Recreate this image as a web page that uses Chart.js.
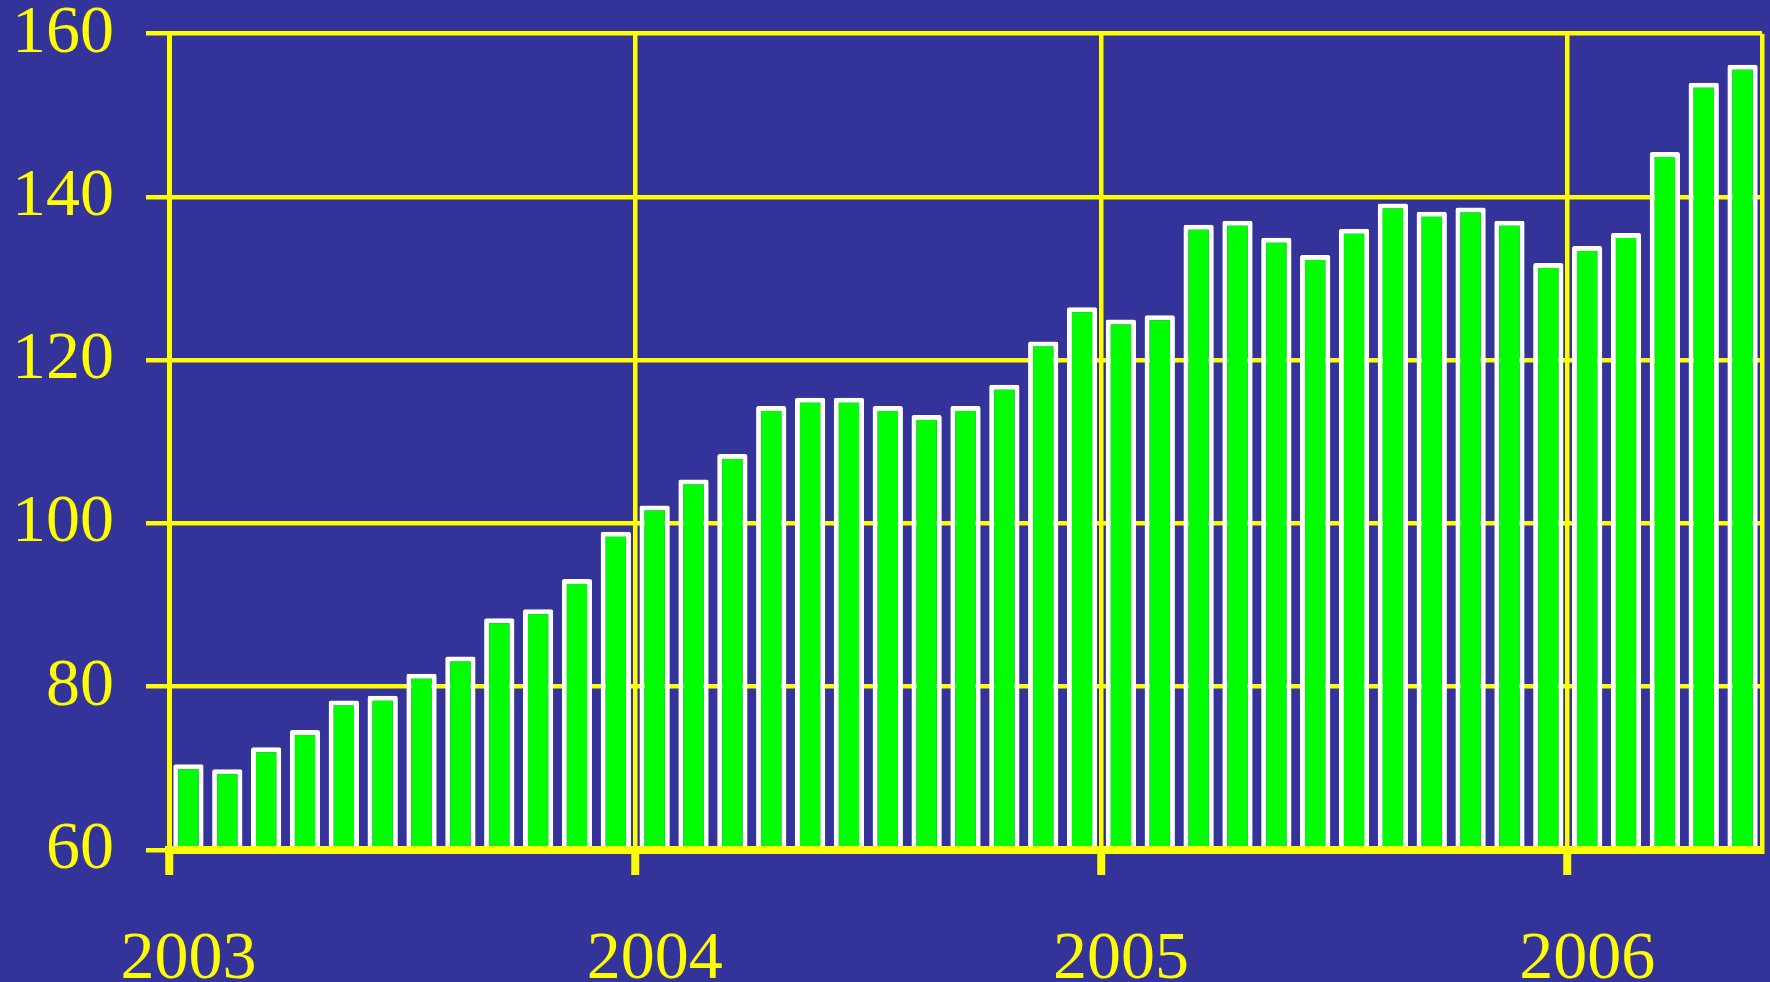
<!DOCTYPE html>
<html>
<head>
<meta charset="utf-8">
<script src="https://cdn.jsdelivr.net/npm/chart.js@4/dist/chart.umd.min.js"></script>
<style>
  html, body { margin: 0; padding: 0; background: #333399; overflow: hidden; }
  canvas { display: block; }
</style>
</head>
<body>
<canvas id="chart" width="1770" height="982"></canvas>
<script>
const years = ["2003", "2004", "2005", "2006"];
const months = ["Jan", "Feb", "Mar", "Apr", "May", "Jun", "Jul", "Aug", "Sep", "Oct", "Nov", "Dec"];

// one bar per month, Jan 2003 to May 2006
const values2003 = [70.5, 69.9, 72.6, 74.7, 78.3, 78.9, 81.6, 83.7, 88.4, 89.5, 93.2, 99.0];
const values2004 = [102.2, 105.4, 108.5, 114.4, 115.4, 115.4, 114.4, 113.3, 114.4, 117.0, 122.3, 126.5];
const values2005 = [125.0, 125.5, 136.6, 137.1, 135.0, 132.9, 136.1, 139.2, 138.2, 138.7, 137.1, 131.9];
const values2006 = [134.0, 135.6, 145.5, 154.0, 156.2];

const values = [...values2003, ...values2004, ...values2005, ...values2006];
const categories = values.map((v, i) => months[i % 12] + " " + years[Math.floor(i / 12)]);

const yellow = "#ffff00";
const none = "rgba(0,0,0,0)";
const serif = "'Liberation Serif', 'Times New Roman', serif";

// vertical lines only at year boundaries (and the right edge)
function yearLine(ctx) {
  return ctx.index === undefined || ctx.index % 12 === 0 ? yellow : none;
}
function yearTick(ctx) {
  return ctx.index !== undefined && ctx.index % 12 === 0 ? yellow : none;
}

new Chart(document.getElementById("chart").getContext("2d"), {
  type: "bar",
  data: {
    labels: categories,
    datasets: [{
      data: values,
      backgroundColor: "#00ff00",
      borderColor: "#ffffff",
      borderWidth: 5,
      borderRadius: 2,
      barPercentage: 0.78,
      categoryPercentage: 1.0
    }]
  },
  options: {
    responsive: false,
    animation: false,
    layout: { padding: { top: 0, right: 8, bottom: 0, left: 0 } },
    plugins: {
      legend: { display: false },
      tooltip: { enabled: false }
    },
    scales: {
      x: {
        offset: true,
        grid: {
          offset: true,
          color: yearLine,
          lineWidth: 4.5,
          drawTicks: true,
          tickLength: 25,
          tickColor: yearTick,
          tickWidth: 8
        },
        // thick base line sits on top of the bar bottoms
        border: { display: true, color: yellow, width: 8, z: 1 },
        ticks: {
          autoSkip: false,
          maxRotation: 0,
          padding: 0,
          color: yellow,
          font: { family: serif, size: 68, lineHeight: 2.5 },
          callback: (val, i) => (i % 12 === 0 ? years[i / 12] : "")
        },
        afterFit: (scale) => { scale.height = 132; }
      },
      y: {
        min: 60,
        max: 160,
        grid: {
          color: yellow,
          lineWidth: 4.5,
          drawTicks: true,
          tickLength: 23,
          tickColor: yellow,
          tickWidth: 4.5
        },
        border: { display: true, color: yellow, width: 5 },
        ticks: {
          stepSize: 20,
          padding: 32,
          color: yellow,
          font: { family: serif, size: 68, lineHeight: 0.05 }
        },
        afterFit: (scale) => { scale.width = 169; }
      }
    }
  }
});
</script>
</body>
</html>
